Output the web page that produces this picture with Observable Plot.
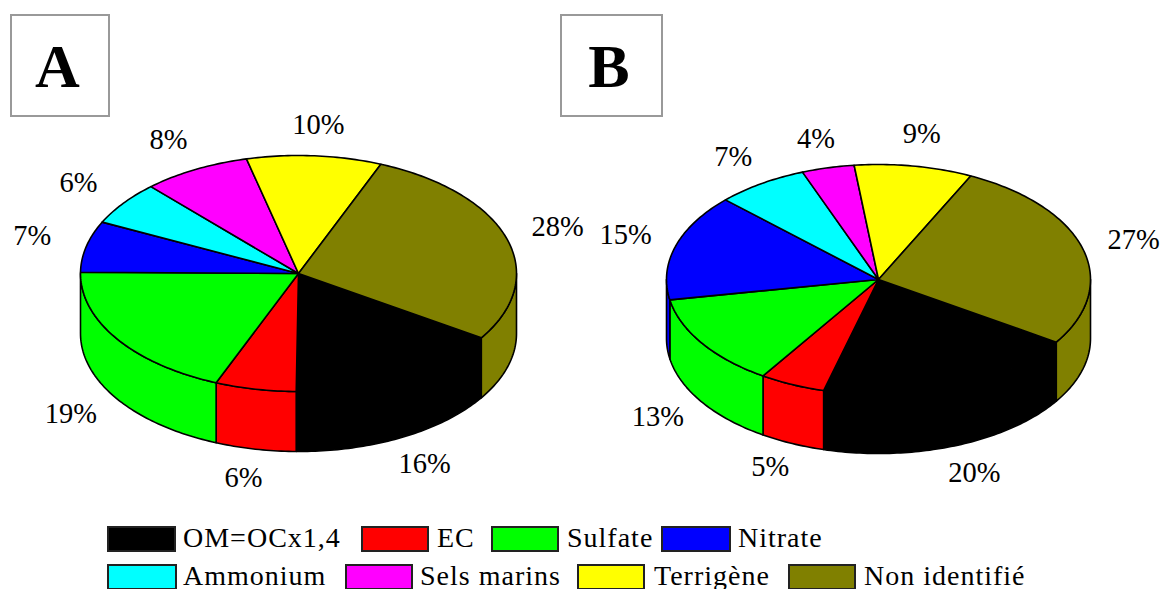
<!DOCTYPE html>
<html><head><meta charset="utf-8">
<script src="https://cdn.jsdelivr.net/npm/d3@7"></script>
<script src="https://cdn.jsdelivr.net/npm/@observablehq/plot@0.6"></script>
<style>
html,body{margin:0;padding:0;background:#fff;overflow:hidden;width:1167px;height:589px}
#legend{position:relative;width:1167px;height:69px;overflow:hidden;font-family:"Liberation Serif",serif;font-size:28px;color:#000}
.sw{position:absolute;box-sizing:border-box;border:2px solid #222;height:26px}
.lb{position:absolute;white-space:nowrap;letter-spacing:1px;line-height:30px}
</style></head><body>
<div id="chart"></div><div id="legend"></div>
<script>
const categories = ["OM=OCx1,4","EC","Sulfate","Nitrate","Ammonium","Sels marins","Terrigène","Non identifié"];
const colors = ["#000000","#ff0000","#00ff00","#0000ff","#00ffff","#ff00ff","#ffff00","#808000"];
const valuesA = [16,6,19,7,6,8,10,28];
const valuesB = [20,5,13,15,7,4,9,27];

// layout only
const W = 1167, H = 520;
const panels = [
  {id:"A", values:valuesA, cx:298, cy:273, rx:218, ry:118, depth:60, first:123, box:[11,15,109,116],
   off:[[23,26],[-12,29],[-46,15],[-54,-11],[-45,-20],[-27,-30],[4,-31],[51,-11]]},
  {id:"B", values:valuesB, cx:878, cy:279, rx:212, ry:115, depth:59, first:123, box:[561,15,662,116],
   off:[[20,27],[-22,23],[-44,15],[-50,-11],[-28,-27],[-12,-29],[8,-32],[51,-9]]}
];
const legendRows = [[107,183,69],[361,437,68],[491,567,68],[661,738,70],[107,183,70],[345,420,68],[577,654,68],[788,864,68]];

const rad = d => d*Math.PI/180;
const tops=[], walls=[], labels=[];
for (const p of panels) {
  const total = d3.sum(p.values);
  const pt = (a,dy=0)=>({x:p.cx+p.rx*Math.sin(rad(a)), y:p.cy-p.ry*Math.cos(rad(a))+dy});
  const arc = (a0,a1)=>{const n=Math.max(2,Math.ceil((a1-a0)/1)+1);return d3.range(n).map(i=>a0+(a1-a0)*i/(n-1));};
  let a = p.first;
  p.values.forEach((v,i)=>{
    const a0=a, a1=a+v/total*360; a=a1;
    const name=categories[i], key=p.id+i;
    tops.push({x:p.cx,y:p.cy,name,key});
    for (const t of arc(a0,a1)) tops.push({...pt(t),name,key});
    for (const shift of [0,360,-360]) {
      const w0=Math.max(a0,90+shift), w1=Math.min(a1,270+shift);
      if (w1>w0) {
        const ts=arc(w0,w1), wk=key+"w"+shift;
        for (const t of ts) walls.push({...pt(t),name,key:wk});
        for (const t of ts.slice().reverse()) walls.push({...pt(t,p.depth),name,key:wk});
      }
    }
    const mid=(a0+a1)/2, m=((mid%360)+360)%360, q=pt(mid,(m>90&&m<270)?p.depth:0);
    labels.push({x:q.x+p.off[i][0],y:q.y+p.off[i][1],text:v+"%"});
  });
}
const boxes = panels.map(p=>({x1:p.box[0],y1:p.box[1],x2:p.box[2],y2:p.box[3],id:p.id,mx:(p.box[0]+p.box[2])/2-3,my:(p.box[1]+p.box[3])/2+1}));
const lineOpts={x:"x",y:"y",z:"key",fill:"name",stroke:"#000",strokeWidth:1.6,curve:"linear-closed"};
const chart = Plot.plot({
  width:W,height:H,margin:0,
  x:{domain:[0,W],range:[0,W],axis:null},
  y:{domain:[0,H],range:[0,H],axis:null},
  color:{domain:categories,range:colors},
  style:{fontFamily:"'Liberation Serif',serif",background:"#fff"},
  marks:[
    Plot.rect(boxes,{x1:"x1",x2:"x2",y1:"y1",y2:"y2",fill:"none",stroke:"#999",strokeWidth:2}),
    Plot.text(boxes,{x:"mx",y:"my",text:"id",fontSize:62,fontWeight:"bold",fill:"#000"}),
    Plot.line(walls,lineOpts),
    Plot.line(tops,lineOpts),
    Plot.text(labels,{x:"x",y:"y",text:"text",fontSize:28.5,fill:"#000"})
  ]
});
document.getElementById("chart").appendChild(chart);
chart.style.display="block";
const lg=document.getElementById("legend");
categories.forEach((c,i)=>{
  const [sx,tx,sw]=legendRows[i], row=i<4?0:1, y=row?44:6;
  const s=document.createElement("div");s.className="sw";
  s.style.cssText=`left:${sx}px;top:${y}px;width:${sw}px;background:${colors[i]}`;
  const t=document.createElement("div");t.className="lb";t.textContent=c;
  t.style.cssText=`left:${tx}px;top:${y-3}px`;
  lg.append(s,t);
});
</script></body></html>
